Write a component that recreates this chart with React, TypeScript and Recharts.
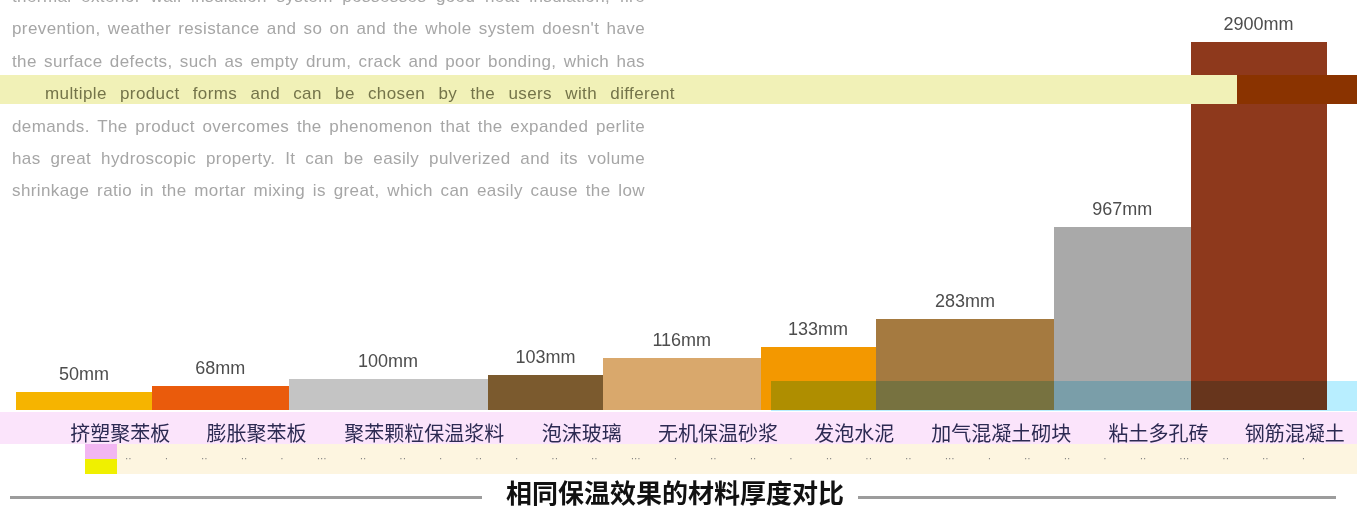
import React from "react"
import { BarChart, Bar, XAxis, YAxis, Cell, LabelList } from "recharts"

// materials giving the same insulation effect, and the thickness each one needs
const materials = [
  "挤塑聚苯板",
  "膨胀聚苯板",
  "聚苯颗粒保温浆料",
  "泡沫玻璃",
  "无机保温砂浆",
  "发泡水泥",
  "加气混凝土砌块",
  "粘土多孔砖",
  "钢筋混凝土",
]
const thicknessMm = [50, 68, 100, 103, 116, 133, 283, 967, 2900]
// the original is not drawn to scale, these are the bar levels as they appear
const drawnLevel = [18, 24, 31, 35, 52, 63, 91, 183, 368]
const barColors = [
  "#f6b400",
  "#ea5b0c",
  "#c4c4c4",
  "#7b5a2e",
  "#d9a86c",
  "#f39800",
  "#a57a40",
  "#a9a9a9",
  "#8e391c",
]

const paragraph = [
  "thermal exterior wall insulation system possesses good heat insulation, fire",
  "prevention, weather resistance and so on and the whole system doesn't have",
  "the surface defects, such as empty drum, crack and poor bonding, which has",
  "multiple product forms and can be chosen by the users with different",
  "demands. The product overcomes the phenomenon that the expanded perlite",
  "has great hydroscopic property. It can be easily pulverized and its volume",
  "shrinkage ratio in the mortar mixing is great, which can easily cause the low",
]

const title = "相同保温效果的材料厚度对比"

// bars in the original are as wide as their labels, so each material gets
// a number of slots that follows the length of its name
const rows = materials.flatMap((name, i) => {
  const slots = name.length * 2 + 3
  const mid = Math.floor(slots / 2)
  return Array.from({ length: slots }, (_, s) => ({
    key: `${i}-${s}`,
    level: drawnLevel[i],
    color: barColors[i],
    tag: s === mid ? `${thicknessMm[i]}mm` : "",
    name: s === mid ? name : "",
  }))
})

const nameByKey = new Map(rows.map((r) => [r.key, r.name]))

function CategoryTick(props: any) {
  const { x, y, payload } = props
  const name = nameByKey.get(payload.value)
  if (!name) return <g />
  return (
    <text
      x={x + 36}
      y={y + 14}
      textAnchor="middle"
      dominantBaseline="central"
      fill="#2c2a52"
      fontSize={20}
      fontFamily="Noto Sans CJK SC"
    >
      {name}
    </text>
  )
}

// slots of one material sit side by side, draw them without seams
function SlotRect(props: any) {
  const { x, y, width, height, fill } = props
  if (!height || height <= 0) return <g />
  return (
    <rect x={x} y={y} width={width + 0.6} height={height} fill={fill} shapeRendering="crispEdges" />
  )
}

const abs = (s: React.CSSProperties): React.CSSProperties => ({ position: "absolute", ...s })

const textLine: React.CSSProperties = {
  height: 22,
  lineHeight: "22px",
  fontSize: 17,
  letterSpacing: 0.4,
  textAlign: "justify",
  textAlignLast: "justify",
  whiteSpace: "nowrap",
}

export default function App() {
  return (
    <div
      style={{
        position: "relative",
        width: 1357,
        height: 512,
        overflow: "hidden",
        background: "#fff",
        fontFamily: "Liberation Sans, Arial, sans-serif",
      }}
    >
      <style>{"body{margin:0}"}</style>

      {/* faded text behind the chart */}
      {paragraph.map((line, i) =>
        i === 3 ? null : (
          <div
            key={i}
            style={abs({
              ...textLine,
              left: 12,
              top: -3 + 32.4 * i - 11,
              width: 633,
              color: "#a6a6a6",
            })}
          >
            {line}
          </div>
        )
      )}

      <div style={abs({ left: 0, top: 412, width: 1357, height: 32, background: "#fbe4fb" })} />
      <div style={abs({ left: 117, top: 444, width: 1240, height: 30, background: "#fdf5e0" })} />
      <div style={abs({ left: 85, top: 444, width: 32, height: 15, background: "#f2b6f2" })} />
      <div style={abs({ left: 85, top: 459, width: 32, height: 15, background: "#f0f000" })} />
      <div
        style={abs({
          left: 125,
          top: 452,
          width: 1180,
          height: 14,
          lineHeight: "14px",
          fontSize: 10,
          color: "#7a7a7a",
          textAlign: "justify",
          textAlignLast: "justify",
          whiteSpace: "nowrap",
        })}
      >
        {"·· · ·· ·· · ··· ·· ·· · ·· · ·· ·· ··· · ·· ·· · ·· ·· ·· ··· · ·· ·· · ·· ··· ·· ·· ·"}
      </div>

      <div style={abs({ left: 0, top: 0 })}>
        <BarChart
          width={1357}
          height={512}
          data={rows}
          margin={{ top: 10, right: 30, left: 16, bottom: 72 }}
          barCategoryGap={0}
          barGap={0}
        >
          <XAxis
            dataKey="key"
            interval={0}
            height={30}
            axisLine={false}
            tickLine={false}
            tick={<CategoryTick />}
          />
          <YAxis hide domain={[0, 400]} />
          <Bar dataKey="level" isAnimationActive={false} shape={<SlotRect />}>
            {rows.map((r) => (
              <Cell key={r.key} fill={r.color} />
            ))}
            <LabelList
              dataKey="tag"
              position="top"
              offset={12}
              fill="#4d4d4d"
              fontSize={18}
              fontFamily="Liberation Sans"
            />
          </Bar>
        </BarChart>
      </div>

      {/* bands laid over the picture */}
      <div style={abs({ left: 0, top: 75, width: 1237, height: 29, background: "#f1f1b7" })} />
      <div style={abs({ left: 1237, top: 75, width: 120, height: 29, background: "#8a3300" })} />
      <div
        style={abs({
          ...textLine,
          left: 45,
          top: -3 + 32.4 * 3 - 11,
          width: 630,
          color: "#74744a",
        })}
      >
        {paragraph[3]}
      </div>
      <div
        style={abs({
          left: 771,
          top: 381,
          width: 586,
          height: 30,
          background: "#b8eeff",
          mixBlendMode: "multiply",
        })}
      />

      <div style={abs({ left: 10, top: 496, width: 472, height: 3, background: "#9c9c9c" })} />
      <div style={abs({ left: 858, top: 496, width: 478, height: 3, background: "#9c9c9c" })} />
      <div
        style={abs({
          left: 495,
          top: 478,
          width: 360,
          height: 28,
          lineHeight: "28px",
          fontSize: 26,
          fontWeight: 700,
          color: "#111",
          textAlign: "center",
          fontFamily: "Noto Sans CJK SC",
          whiteSpace: "nowrap",
        })}
      >
        {title}
      </div>
    </div>
  )
}
